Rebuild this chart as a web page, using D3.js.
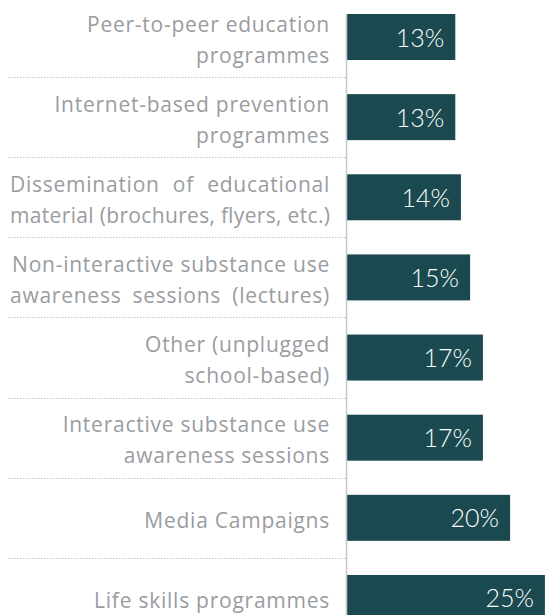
<!DOCTYPE html>
<html><head><meta charset="utf-8">
<script src="https://cdn.jsdelivr.net/npm/d3@7"></script>
<style>
html,body{margin:0;padding:0;background:#fff;}
svg{display:block;}
</style></head>
<body>
<svg id="chart" width="545" height="615"></svg>
<script>
// ---- data ----
const categories = [
  "Peer-to-peer education programmes",
  "Internet-based prevention programmes",
  "Dissemination of educational material (brochures, flyers, etc.)",
  "Non-interactive substance use awareness sessions (lectures)",
  "Other (unplugged school-based)",
  "Interactive substance use awareness sessions",
  "Media Campaigns",
  "Life skills programmes"
];
const categoryLines = [
  ["Peer-to-peer education", "programmes"],
  ["Internet-based prevention", "programmes"],
  ["Dissemination of educational", "material (brochures, flyers, etc.)"],
  ["Non-interactive substance use", "awareness sessions (lectures)"],
  ["Other (unplugged", "school-based)"],
  ["Interactive substance use", "awareness sessions"],
  ["Media Campaigns"],
  ["Life skills programmes"]
];
const justifiedLines = [
  [false, false],
  [false, false],
  [true, true],
  [false, true],
  [false, false],
  [false, false],
  [false],
  [false]
];
const values = [13.6, 13.6, 14.3, 15.45, 17.05, 17.05, 20.45, 24.8];
const valueLabels = ["13%", "13%", "14%", "15%", "17%", "17%", "20%", "25%"];

// ---- layout ----
const W = 545, H = 615;
const axisX = 346.5;
const labelRight = 330, labelLeft = 10;
const step = 80.14, bw = 46, firstTop = 14;
const pad = (step - bw) / step;

const svg = d3.select("#chart");

const x = d3.scaleLinear().domain([0, 25]).range([axisX, axisX + 200]);
const y = d3.scaleBand()
  .domain(categories)
  .range([firstTop - step * pad / 2, firstTop - step * pad / 2 + step * categories.length])
  .paddingInner(pad).paddingOuter(pad / 2);

// gridlines between bars
const gridG = svg.append("g");
categories.slice(0, -1).forEach((c) => {
  const gy = Math.round(y(c) + y.bandwidth() + (y.step() - y.bandwidth()) / 2) + 0.5;
  gridG.append("line")
    .attr("x1", 8).attr("x2", axisX)
    .attr("y1", gy).attr("y2", gy)
    .attr("stroke", "#c4c4c4").attr("stroke-width", 1)
    .attr("stroke-dasharray", "1.5,1.5");
});

// bars
svg.append("g").selectAll("rect").data(categories).join("rect")
  .attr("x", axisX)
  .attr("y", d => y(d))
  .attr("width", (d, i) => x(values[i]) - x(0))
  .attr("height", y.bandwidth())
  .attr("fill", "#1a4a4f");

// axis line
svg.append("line")
  .attr("x1", axisX).attr("x2", axisX)
  .attr("y1", firstTop).attr("y2", H)
  .attr("stroke", "#c8c8c8").attr("stroke-width", 1.5);

// value labels
svg.append("g").selectAll("text").data(categories).join("text")
  .attr("x", (d, i) => x(values[i]) - 11)
  .attr("y", d => y(d) + y.bandwidth() / 2 + 9.5)
  .attr("text-anchor", "end")
  .attr("fill", "#ffffff")
  .style("font-family", "Lato, 'Open Sans', sans-serif")
  .style("font-weight", 300)
  .style("font-size", "25px")
  .text((d, i) => valueLabels[i]);

// category labels
const lineH = 31;
const maxW = labelRight - labelLeft;
const labG = svg.append("g")
  .style("font-family", "'Open Sans', 'Noto Sans', sans-serif")
  .style("font-size", "21px")
  .style("letter-spacing", "0.75px")
  .attr("fill", "#9a9c9f");

categories.forEach((c, i) => {
  const lines = categoryLines[i];
  const cy = y(c) + y.bandwidth() / 2;
  lines.forEach((ln, j) => {
    const by = cy + 10 + (j - (lines.length - 1) / 2) * lineH;
    if (justifiedLines[i][j]) {
      const words = ln.split(" ");
      const tmp = labG.append("g");
      const widths = words.map(w => {
        const t = tmp.append("text").text(w);
        return t.node().getComputedTextLength();
      });
      tmp.remove();
      const total = d3.sum(widths);
      const gap = (maxW - total) / (words.length - 1);
      if (gap < 5) {
        labG.append("text")
          .attr("x", labelLeft).attr("y", by)
          .style("letter-spacing", "0px")
          .attr("textLength", maxW).attr("lengthAdjust", "spacing")
          .text(ln);
      } else {
        let cx = labelLeft;
        words.forEach((w, k) => {
          labG.append("text").attr("x", cx).attr("y", by).text(w);
          cx += widths[k] + gap;
        });
      }
    } else {
      const t = labG.append("text")
        .attr("x", labelRight).attr("y", by)
        .attr("text-anchor", "end")
        .text(ln);
      if (t.node().getComputedTextLength() > maxW) {
        t.style("letter-spacing", "0px");
        if (t.node().getComputedTextLength() > maxW) {
          t.attr("textLength", maxW).attr("lengthAdjust", "spacing");
        }
      }
    }
  });
});
</script>
</body></html>
